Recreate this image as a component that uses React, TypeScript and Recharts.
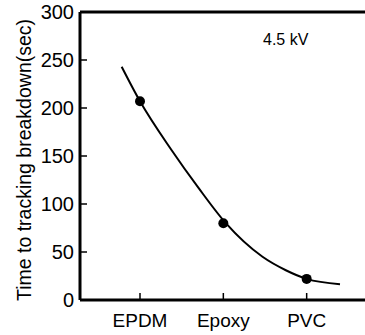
import {
  ComposedChart,
  Line,
  Scatter,
  XAxis,
  YAxis,
  ReferenceLine,
  Label,
} from "recharts"

// ── Data ──────────────────────────────────────────────────────
const materials = ["EPDM", "Epoxy", "PVC"]
const materialPos = [1, 2, 3]
const measured = [207, 80, 22]

// fitted curve
const curveX = [0.78, 1, 1.38, 1.7, 2.03, 2.47, 2.75, 3, 3.4]
const curveY = [243, 207, 156, 117, 80, 45, 31, 22, 16.5]

const yTicks = [0, 50, 100, 150, 200, 250, 300]

const FONT = "Liberation Sans, Arial, sans-serif"

const pointData = materialPos.map((x, i) => ({ x, y: measured[i], name: materials[i] }))
const curveData = curveX.map((x, i) => ({ x, y: curveY[i] }))

// ── Ticks drawn inward ────────────────────────────────────────
function YTick(props: any) {
  const { x, y, payload } = props
  return (
    <g>
      <path d={`M${x},${y}h7`} stroke="#000" strokeWidth={1.5} />
      <text x={x - 6} y={y} textAnchor="end" dominantBaseline="central"
        fontSize={20} fontFamily={FONT} fill="#000">
        {payload.value}
      </text>
    </g>
  )
}

function XTick(props: any) {
  const { x, y, payload } = props
  const idx = materialPos.indexOf(payload.value)
  return (
    <g>
      <path d={`M${x},${y}v-7`} stroke="#000" strokeWidth={1.5} />
      <text x={x} y={y + 27} textAnchor="middle" fontSize={19} fontFamily={FONT} fill="#000">
        {idx >= 0 ? materials[idx] : ""}
      </text>
    </g>
  )
}

export default function App() {
  return (
    <div style={{ position: "absolute", left: 0, top: 0, width: 365, height: 335, background: "#fff" }}>
      <ComposedChart width={365} height={335} margin={{ top: 12, right: 0, bottom: 0, left: 0 }}>
        <XAxis
          dataKey="x"
          type="number"
          domain={[0.28, 3.7]}
          ticks={materialPos}
          allowDataOverflow
          height={35}
          tickSize={0}
          tickMargin={0}
          tickLine={false}
          tick={<XTick />}
          axisLine={{ stroke: "#000", strokeWidth: 3 }}
        />
        <YAxis
          type="number"
          domain={[0, 300]}
          ticks={yTicks}
          width={80}
          tickSize={0}
          tickMargin={0}
          tickLine={false}
          tick={<YTick />}
          axisLine={{ stroke: "#000", strokeWidth: 3 }}
        >
          <Label
            content={() => (
              <text transform="translate(24,160) rotate(-90)" textAnchor="middle"
                dominantBaseline="central" fontSize={19.5} fontFamily={FONT} fill="#000">
                Time to tracking breakdown(sec)
              </text>
            )}
          />
        </YAxis>
        <ReferenceLine y={300} stroke="#000" strokeWidth={3} ifOverflow="extendDomain" />
        <Line
          data={curveData}
          dataKey="y"
          type="monotone"
          stroke="#000"
          strokeWidth={2}
          dot={false}
          activeDot={false}
          isAnimationActive={false}
        />
        <Scatter
          data={pointData}
          dataKey="y"
          fill="#000"
          isAnimationActive={false}
          shape={(p: any) => <circle cx={p.cx} cy={p.cy} r={5} fill="#000" />}
        />
      </ComposedChart>
      <div style={{ position: "absolute", left: 263, top: 31, fontSize: 16, fontFamily: FONT, color: "#000" }}>
        4.5 kV
      </div>
    </div>
  )
}
